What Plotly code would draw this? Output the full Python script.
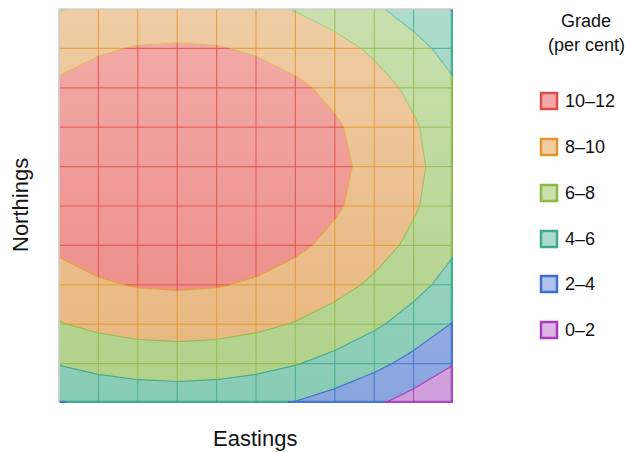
import plotly.graph_objects as go

# ---- data (grade values on an 11 x 11 survey grid; rows = northings from south) ----
eastings = [0, 1, 2, 3, 4, 5, 6, 7, 8, 9, 10]
northings = [0, 1, 2, 3, 4, 5, 6, 7, 8, 9, 10]
grade = [
    [3.9, 4.4, 4.7, 4.8, 4.7, 4.4, 3.9, 3.2, 2.3, 1.2, -0.1],
    [6.1, 6.6, 6.9, 7.0, 6.9, 6.6, 6.1, 5.4, 4.5, 3.4, 2.1],
    [7.9, 8.4, 8.7, 8.8, 8.7, 8.4, 7.9, 7.2, 6.3, 5.2, 3.9],
    [9.3, 9.8, 10.1, 10.2, 10.1, 9.8, 9.3, 8.6, 7.7, 6.6, 5.3],
    [10.3, 10.8, 11.1, 11.2, 11.1, 10.8, 10.3, 9.6, 8.7, 7.6, 6.3],
    [10.9, 11.4, 11.7, 11.8, 11.7, 11.4, 10.9, 10.2, 9.3, 8.2, 6.9],
    [11.1, 11.6, 11.9, 12.0, 11.9, 11.6, 11.1, 10.4, 9.5, 8.4, 7.1],
    [10.9, 11.4, 11.7, 11.8, 11.7, 11.4, 10.9, 10.2, 9.3, 8.2, 6.9],
    [10.3, 10.8, 11.1, 11.2, 11.1, 10.8, 10.3, 9.6, 8.7, 7.6, 6.3],
    [9.3, 9.8, 10.1, 10.2, 10.1, 9.8, 9.3, 8.6, 7.7, 6.6, 5.3],
    [7.9, 8.4, 8.7, 8.8, 8.7, 8.4, 7.9, 7.2, 6.3, 5.2, 3.9],
]
levels = [2, 4, 6, 8, 10]
band_labels = ["0–2", "2–4", "4–6", "6–8", "8–10", "10–12"]
legend_title = ["Grade", "(per cent)"]

# ---- styling ----
fill_colors = ["#CF9EDB", "#8AA6DF", "#88CCB5", "#B0D188", "#E8B57B", "#EC8681"]
line_colors = ["#A83CBE", "#3E70CC", "#3CAA8C", "#8CB946", "#E29628", "#E24C46"]
swatch_fill = ["#DDB6E6", "#AEC2EA", "#AEDCCC", "#CBE1AC", "#F0CCA2", "#F2A8A6"]


def rgba(hexc, a):
    h = hexc.lstrip("#")
    return "rgba(%d,%d,%d,%.2f)" % (int(h[0:2], 16), int(h[2:4], 16), int(h[4:6], 16), a)


W, H = 625, 452
L, R, T, B = 59, 453, 9, 403
PW, PH = R - L, B - T


def px(x):
    return (x - L) / PW


def py(y):
    return (B - y) / PH


fig = go.Figure()

# filled bands (stacked constraint contours; shaded side is where z >= level)
for k, lev in enumerate(levels):
    fig.add_trace(go.Contour(
        x=eastings, y=northings, z=grade,
        contours=dict(type="constraint", operation="<", value=lev),
        fillcolor=fill_colors[k + 1],
        line=dict(color=line_colors[k], width=1.2, smoothing=0),
        showscale=False, hoverinfo="skip", showlegend=False,
    ))

# soft vertical whitening as in the original shading
fig.add_trace(go.Scatter(
    x=[eastings[0], eastings[-1], eastings[-1], eastings[0], eastings[0]],
    y=[northings[0], northings[0], northings[-1], northings[-1], northings[0]],
    mode="none", fill="toself",
    fillgradient=dict(type="vertical",
                      colorscale=[[0, "rgba(255,255,255,0)"], [1, "rgba(255,255,255,0.32)"]]),
    hoverinfo="skip", showlegend=False,
))


# mesh lines coloured by the band they pass through
def band_of(v):
    b = 0
    for lev in levels:
        if v >= lev:
            b += 1
    return b


def mesh_segments(points, values, store):
    for n in range(len(points) - 1):
        (x0, y0), (x1, y1) = points[n], points[n + 1]
        a, b = values[n], values[n + 1]
        ts = [0.0, 1.0]
        if a != b:
            for lev in levels:
                t = (lev - a) / (b - a)
                if 0 < t < 1:
                    ts.append(t)
        ts.sort()
        for t0, t1 in zip(ts[:-1], ts[1:]):
            tm = (t0 + t1) / 2
            bd = band_of(a + (b - a) * tm)
            store[bd][0].extend([x0 + (x1 - x0) * t0, x0 + (x1 - x0) * t1, None])
            store[bd][1].extend([y0 + (y1 - y0) * t0, y0 + (y1 - y0) * t1, None])


inner = {k: ([], []) for k in range(6)}
edge = {k: ([], []) for k in range(6)}
nx, ny = len(eastings), len(northings)
for j in range(ny - 1):
    pts = [(eastings[i], northings[j]) for i in range(nx)]
    mesh_segments(pts, grade[j], edge if j == 0 else inner)
for i in range(1, nx):
    pts = [(eastings[i], northings[j]) for j in range(ny)]
    mesh_segments(pts, [grade[j][i] for j in range(ny)], edge if i == nx - 1 else inner)

for k in range(6):
    fig.add_trace(go.Scatter(x=inner[k][0], y=inner[k][1], mode="lines",
                             line=dict(color=rgba(line_colors[k], 0.75), width=1.2),
                             hoverinfo="skip", showlegend=False))
    fig.add_trace(go.Scatter(x=edge[k][0], y=edge[k][1], mode="lines",
                             line=dict(color=rgba(line_colors[k], 0.9), width=4.5),
                             hoverinfo="skip", showlegend=False))

shapes = [
    dict(type="line", xref="paper", yref="paper", x0=0, x1=1, y0=1, y1=1,
         line=dict(color="#CCCCCC", width=1.5)),
    dict(type="line", xref="paper", yref="paper", x0=0, x1=0, y0=0, y1=1,
         line=dict(color="#CCCCCC", width=1.5)),
]
annotations = [
    dict(text="Eastings", x=px(255), y=py(438), xref="paper", yref="paper",
         showarrow=False, xanchor="center", yanchor="middle",
         font=dict(size=22, color="#111111")),
    dict(text="Northings", x=px(20), y=py(205), xref="paper", yref="paper",
         showarrow=False, xanchor="center", yanchor="middle", textangle=-90,
         font=dict(size=22, color="#111111")),
    dict(text=legend_title[0], x=px(586), y=py(21), xref="paper", yref="paper",
         showarrow=False, xanchor="center", yanchor="middle",
         font=dict(size=18, color="#111111")),
    dict(text=legend_title[1], x=px(586), y=py(45), xref="paper", yref="paper",
         showarrow=False, xanchor="center", yanchor="middle",
         font=dict(size=18, color="#111111")),
]
item_y = [330, 284, 239, 193, 147, 101]
for k in range(6):
    yc = item_y[k]
    shapes.append(dict(type="rect", xref="paper", yref="paper",
                       x0=px(541), x1=px(557), y0=py(yc + 8), y1=py(yc - 8),
                       fillcolor=swatch_fill[k], line=dict(color=line_colors[k], width=2.5)))
    annotations.append(dict(text=band_labels[k], x=px(563), y=py(yc), xref="paper", yref="paper",
                            showarrow=False, xanchor="left", yanchor="middle",
                            font=dict(size=18, color="#111111")))

fig.update_layout(
    width=W, height=H,
    margin=dict(l=L, r=W - R, t=T, b=H - B, pad=0),
    paper_bgcolor="white", plot_bgcolor=fill_colors[0],
    font=dict(family="Liberation Sans, Arial, sans-serif"),
    xaxis=dict(range=[eastings[0], eastings[-1]], showgrid=False, zeroline=False,
               showticklabels=False, ticks="", showline=False),
    yaxis=dict(range=[northings[0], northings[-1]], showgrid=False, zeroline=False,
               showticklabels=False, ticks="", showline=False),
    shapes=shapes, annotations=annotations, showlegend=False,
)

fig.write_html("out.html", config={"displayModeBar": False},
               post_script="document.body.style.margin='0';")
